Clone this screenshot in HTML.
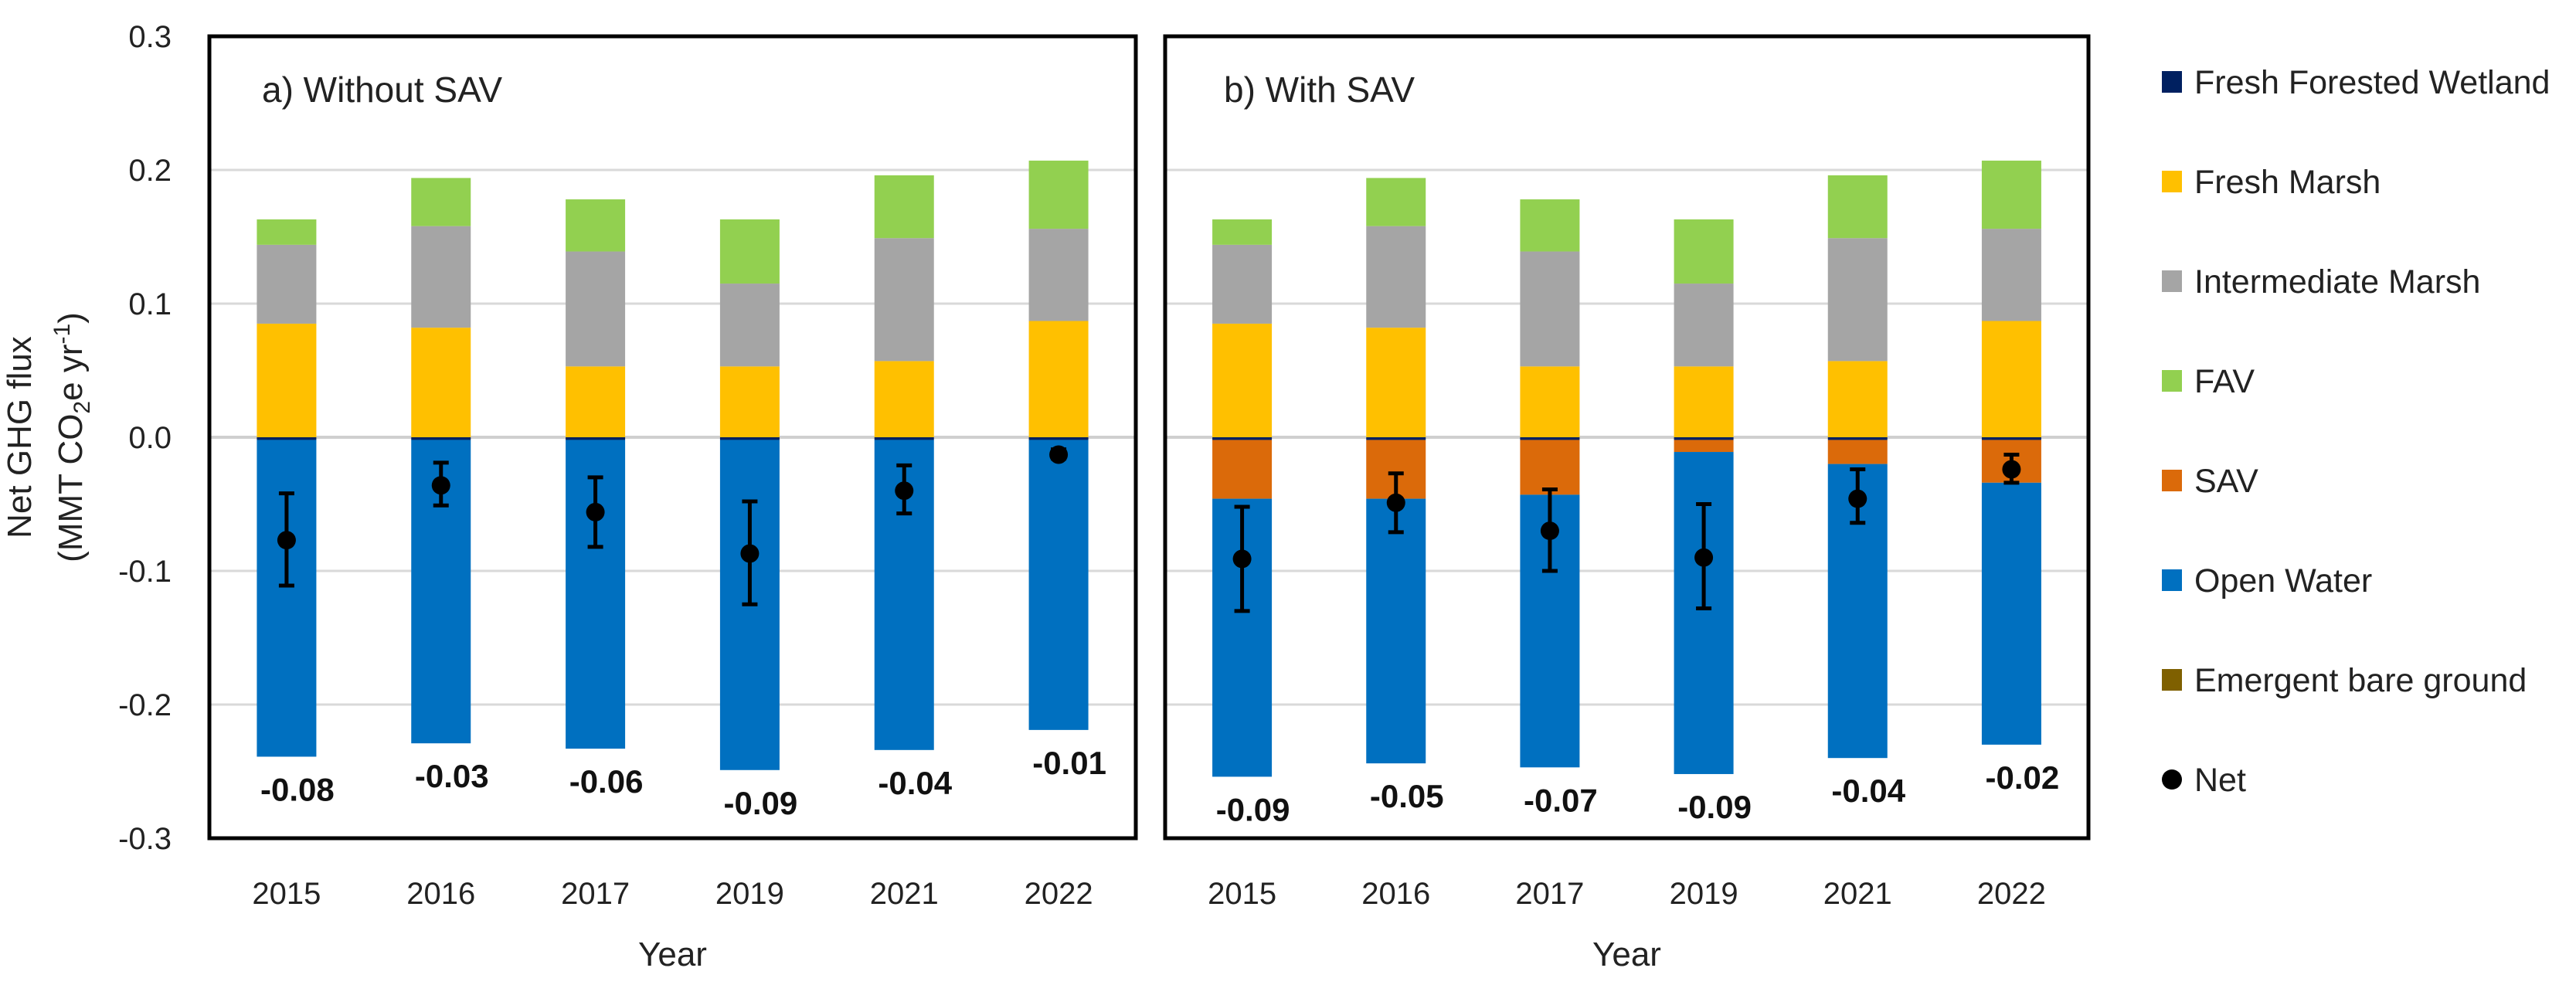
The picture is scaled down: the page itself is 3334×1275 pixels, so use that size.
<!DOCTYPE html>
<html><head><meta charset="utf-8"><style>
html,body{margin:0;padding:0;background:#fff;}
svg{display:block;font-family:"Liberation Sans",Arial,sans-serif;}
</style></head><body>
<svg id="chart" width="3334" height="1275" viewBox="0 0 3334 1275" xmlns="http://www.w3.org/2000/svg">
<g id="yaxis"></g>
<g id="panelA"></g>
<g id="panelB"></g>
<g id="legend"></g>
<text transform="translate(40,566) rotate(-90)" text-anchor="middle" font-size="44" fill="#222">Net GHG flux</text>
<text transform="translate(106,566) rotate(-90)" text-anchor="middle" font-size="44" fill="#222">(MMT CO<tspan font-size="30" dy="10">2</tspan><tspan dy="-10">e yr</tspan><tspan font-size="30" dy="-16">-1</tspan><tspan dy="16">)</tspan></text>
</svg>
<script>
const years = ["2015","2016","2017","2019","2021","2022"];
const yTicks = [0.3,0.2,0.1,0.0,-0.1,-0.2,-0.3];
const freshMarsh = [0.085,0.082,0.053,0.053,0.057,0.087];
const intermediateMarsh = [0.059,0.076,0.086,0.062,0.092,0.069];
const fav = [0.019,0.036,0.039,0.048,0.047,0.051];
const freshForested = [-0.002,-0.002,-0.002,-0.002,-0.002,-0.002];
const bareGround = [0,0,0,0,0,0];
const openWaterA = [-0.237,-0.227,-0.231,-0.247,-0.232,-0.217];
const savA = [0,0,0,0,0,0];
const netA = [-0.077,-0.036,-0.056,-0.087,-0.040,-0.013];
const errLowA = [-0.111,-0.051,-0.082,-0.125,-0.057,-0.016];
const errHighA = [-0.042,-0.019,-0.030,-0.048,-0.021,-0.009];
const netLabelsA = ["-0.08","-0.03","-0.06","-0.09","-0.04","-0.01"];
const savB = [-0.044,-0.044,-0.041,-0.009,-0.018,-0.032];
const openWaterB = [-0.208,-0.198,-0.204,-0.241,-0.220,-0.196];
const netB = [-0.091,-0.049,-0.070,-0.090,-0.046,-0.024];
const errLowB = [-0.130,-0.071,-0.100,-0.128,-0.064,-0.034];
const errHighB = [-0.052,-0.027,-0.039,-0.050,-0.024,-0.013];
const netLabelsB = ["-0.09","-0.05","-0.07","-0.09","-0.04","-0.02"];
const legendLabels = ["Fresh Forested Wetland","Fresh Marsh","Intermediate Marsh","FAV","SAV","Open Water","Emergent bare ground","Net"];

const NS="http://www.w3.org/2000/svg";
const C={ffw:"#002060",fm:"#FFC000",im:"#A5A5A5",fav:"#92D050",sav:"#DB6A0A",ow:"#0070C0",bg:"#7F6000"};
const Y0=566, PX=1730;
function yS(v){return Y0 - v*PX;}
function mk(tag,attrs,parent){const e=document.createElementNS(NS,tag);for(const k in attrs)e.setAttribute(k,attrs[k]);parent.appendChild(e);return e;}

const ya=document.getElementById('yaxis');
yTicks.forEach(t=>{
  const e=mk('text',{x:222,y:yS(t)+14,'text-anchor':'end','font-size':40,fill:'#222'},ya);
  
  
  e.textContent=t.toFixed(1);
});

function panel(g,left,right,title,sav,ow,net,lo,hi,labels,key){
  const w=(right-left)/6;
  function xS(i){return left+w*(i+0.5);}
  yTicks.forEach(t=>{ if(t===0.3||t===-0.3) return;
    const l=mk('line',{x1:left,x2:right,y1:yS(t),y2:yS(t),stroke:t===0?'#CFCFCF':'#D9D9D9','stroke-width':t===0?4:3},g);
    
    
  });
  const bw=77;
  years.forEach((yr,i)=>{
    const x=xS(i)-bw/2;
    let top=0;
    [[freshMarsh[i],C.fm,'fresh-marsh'],[intermediateMarsh[i],C.im,'intermediate-marsh'],[fav[i],C.fav,'fav']].forEach(s=>{
      const r=mk('rect',{x:x,y:yS(top+s[0]),width:bw,height:s[0]*PX,fill:s[1]},g);
      
      
      top+=s[0];
    });
    let bot=0;
    [[freshForested[i],C.ffw,'fresh-forested-wetland'],[sav[i],C.sav,'sav'],[ow[i],C.ow,'open-water'],[bareGround[i],C.bg,'emergent-bare-ground']].forEach(s=>{
      if(s[0]===0) return;
      const r=mk('rect',{x:x,y:yS(bot),width:bw,height:-s[0]*PX,fill:s[1]},g);
      
      
      bot+=s[0];
    });
    const cx=xS(i);
    const el=mk('line',{x1:cx,x2:cx,y1:yS(hi[i]),y2:yS(lo[i]),stroke:'#000','stroke-width':5},g);
    
    
    [hi[i],lo[i]].forEach(v=>{
      const c=mk('line',{x1:cx-10,x2:cx+10,y1:yS(v),y2:yS(v),stroke:'#000','stroke-width':5},g);
      
      
    });
    const d=mk('circle',{cx:cx,cy:yS(net[i]),r:12,fill:'#000'},g);
    
    
    const t=mk('text',{x:cx+14,y:yS(bot)+57,'text-anchor':'middle','font-size':42,'font-weight':'bold',fill:'#111'},g);
    
    
    t.textContent=labels[i];
    const xl=mk('text',{x:cx,y:1170,'text-anchor':'middle','font-size':40,fill:'#222'},g);
    
    
    xl.textContent=yr;
  });
  const f=mk('rect',{x:left,y:yS(0.3),width:right-left,height:yS(-0.3)-yS(0.3),fill:'none',stroke:'#000','stroke-width':5},g);
  
  
  const tt=mk('text',{x:left+(key==='a'?68:76),y:132,'font-size':46,fill:'#222'},g);
  
  
  tt.textContent=title;
  const xt=mk('text',{x:(left+right)/2,y:1250,'text-anchor':'middle','font-size':44,fill:'#222'},g);
  
  
  xt.textContent='Year';
}
panel(document.getElementById('panelA'),271,1470,'a) Without SAV',savA,openWaterA,netA,errLowA,errHighA,netLabelsA,'a');
panel(document.getElementById('panelB'),1508,2703,'b) With SAV',savB,openWaterB,netB,errLowB,errHighB,netLabelsB,'b');

const lg=document.getElementById('legend');
const lcol=[C.ffw,C.fm,C.im,C.fav,C.sav,C.ow,C.bg,null];
legendLabels.forEach((lab,i)=>{
  const y=106+i*129;
  let m;
  if(lcol[i]) m=mk('rect',{x:2798,y:y-14,width:26,height:28,fill:lcol[i]},lg);
  else m=mk('circle',{cx:2811,cy:y,r:13,fill:'#000'},lg);
  
  
  const t=mk('text',{x:2840,y:y+15,'font-size':43,fill:'#222'},lg);
  
  
  t.textContent=lab;
});
</script>
</body></html>
